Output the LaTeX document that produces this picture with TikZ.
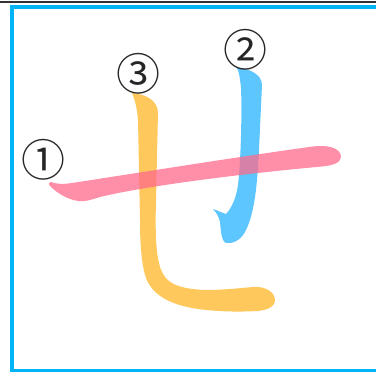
\documentclass[tikz,border=0pt]{standalone}
\usepackage{fontspec}
\newfontfamily\cjk{Noto Sans CJK JP}
\definecolor{framebl}{RGB}{0,180,245}
\definecolor{strokeor}{RGB}{255,200,92}
\definecolor{strokebl}{RGB}{94,198,255}
\definecolor{strokepk}{RGB}{255,106,139}
\begin{document}
\begin{tikzpicture}[x=1pt,y=-1pt,
  numlabel/.style={inner sep=0pt,font=\cjk\fontsize{44}{44}\selectfont,text=black!85}]
\useasboundingbox (0,0) rectangle (376,372);
% frame
\draw[line width=2pt,black!80] (0,1.5) -- (376,1.5);
\draw[line width=3.5pt,framebl] (376,6.8) -- (12,6.8) -- (12,370.5) -- (376,370.5);
% stroke 3 (orange)
\fill[strokeor] (132,93) .. controls (145,94) and (158,100) .. (158,113) -- (156,200)
  .. controls (155,240) and (156,265) .. (165,277)
  .. controls (172,286) and (185,289) .. (205,290)
  .. controls (225,290) and (240,288) .. (253,287)
  .. controls (265,286) and (275,292) .. (275,300)
  .. controls (275,307) and (267,310) .. (258,311)
  .. controls (240,312) and (215,312) .. (192,308)
  .. controls (165,303) and (150,292) .. (145,275)
  .. controls (141,260) and (140,240) .. (140,220) -- (138,120)
  .. controls (137,108) and (135,100) .. (132,93) -- cycle;
% stroke 2 (blue)
\fill[strokebl] (237,68) .. controls (248,68) and (262,74) .. (262,85) -- (259,150)
  .. controls (257,190) and (254,215) .. (245,232)
  .. controls (240,241) and (232,244) .. (226,243)
  .. controls (221,241) and (221,230) .. (220,222)
  .. controls (219,217) and (216,212) .. (213,209)
  .. controls (217,210) and (222,213) .. (226,214)
  .. controls (230,210) and (236,200) .. (238,185)
  .. controls (241,160) and (242,110) .. (241,88)
  .. controls (240,78) and (239,72) .. (237,68) -- cycle;
% stroke 1 (pink)
\fill[strokepk,fill opacity=0.75] (51,182) .. controls (57,184) and (62,184.5) .. (72,183)
  .. controls (150,171) and (250,155) .. (313,146.5)
  .. controls (328,144.5) and (341,148) .. (341,157)
  .. controls (341,163) and (332,165.5) .. (322,166.5)
  .. controls (250,173) and (150,185) .. (100,197)
  .. controls (90,200) and (85,202) .. (78,201)
  .. controls (65,199) and (55,191) .. (50,186)
  .. controls (48,183) and (49,182) .. (51,182) -- cycle;
% labels
\node[numlabel] (n1) at (43,160) {①};
\node[numlabel] (n2) at (245,49.5) {②};
\node[numlabel] (n3) at (138.5,74) {③};
\end{tikzpicture}
\end{document}
